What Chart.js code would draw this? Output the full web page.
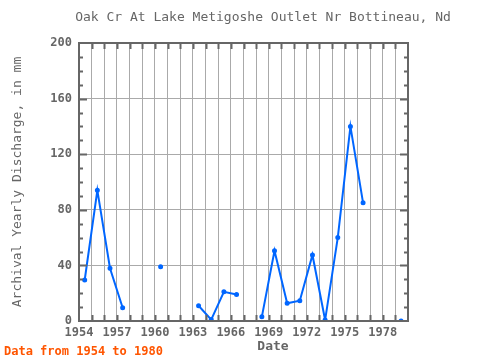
<!DOCTYPE html>
<html>
<head>
<meta charset="utf-8">
<script src="https://cdn.jsdelivr.net/npm/chart.js@4"></script>
<style>
  body { margin: 0; background: #fff; }
</style>
</head>
<body>
<canvas id="chart" width="480" height="360"></canvas>
<script>
// Yearly values (null = no data that year)
const years = [1954, 1955, 1956, 1957, 1958, 1959, 1960, 1961, 1962, 1963, 1964, 1965, 1966,
               1967, 1968, 1969, 1970, 1971, 1972, 1973, 1974, 1975, 1976, 1977, 1978, 1979];
const discharge = [29.5, 94, 38, 9.5, null, null, 39, null, null, 11, 1, 21, 19,
                   null, 3, 50.5, 12.7, 14.6, 47.5, 0.7, 60, 140, 85, null, null, 0];
const xTickLabels = [1954, 1957, 1960, 1963, 1966, 1969, 1972, 1975, 1978];
const yTickLabels = [0, 40, 80, 120, 160, 200];

const monoFont = "'DejaVu Sans Mono', monospace";

// points sit a bit after the start of each year
const points = years.map((y, i) => ({ x: y + 0.45, y: discharge[i] }));

// frame, inner tick marks and the loose text
const decorations = {
    id: "decorations",
    afterDraw(chart) {
        const ctx = chart.ctx;
        const a = chart.chartArea;
        const xs = chart.scales.x;
        const ys = chart.scales.y;
        ctx.save();
        ctx.strokeStyle = "#666";
        ctx.lineWidth = 2;
        // year ticks on top and bottom
        for (let yr = 1955; yr < 1980; yr++) {
            const px = Math.round(xs.getPixelForValue(yr)) + 0.5;
            ctx.beginPath();
            ctx.moveTo(px, a.top); ctx.lineTo(px, a.top + 6);
            ctx.moveTo(px, a.bottom); ctx.lineTo(px, a.bottom - 6);
            ctx.stroke();
        }
        // minor ticks every 10 on left and right
        for (let v = 10; v < 200; v += 10) {
            const py = Math.round(ys.getPixelForValue(v)) + 0.5;
            const len = v % 40 === 0 ? 8 : 4;
            ctx.beginPath();
            ctx.moveTo(a.left, py); ctx.lineTo(a.left + len, py);
            ctx.moveTo(a.right, py); ctx.lineTo(a.right - len, py);
            ctx.stroke();
        }
        ctx.strokeRect(a.left, a.top, a.right - a.left, a.bottom - a.top);

        ctx.fillStyle = "#666";
        ctx.textAlign = "center";
        ctx.textBaseline = "middle";
        ctx.font = "13px " + monoFont;
        ctx.fillText("Oak Cr At Lake Metigoshe Outlet Nr Bottineau, Nd", 263, 18);
        ctx.font = "bold 13px " + monoFont;
        ctx.fillText("Date", 273, 347);
        ctx.fillStyle = "#ff5500";
        ctx.textAlign = "left";
        ctx.font = "bold 12px " + monoFont;
        ctx.fillText("Data from 1954 to 1980", 4, 352);
        ctx.restore();
    }
};

new Chart(document.getElementById("chart"), {
    type: "line",
    data: {
        datasets: [{
            data: points,
            borderColor: "#0066ff",
            backgroundColor: "#0066ff",
            borderWidth: 2,
            pointRadius: 1.5,
            pointHoverRadius: 1.5,
            spanGaps: false,
            tension: 0
        }]
    },
    options: {
        responsive: false,
        animation: false,
        layout: { padding: { left: 0, right: 72, top: 43, bottom: 0 } },
        plugins: {
            legend: { display: false },
            tooltip: { enabled: false }
        },
        scales: {
            x: {
                type: "linear",
                min: 1954,
                max: 1980,
                afterFit: (s) => { s.height = 39; },
                afterBuildTicks: (s) => {
                    s.ticks = years.concat([1980]).map(v => ({ value: v }));
                },
                ticks: {
                    autoSkip: false,
                    maxRotation: 0,
                    padding: 5,
                    color: "#666",
                    font: { family: monoFont, size: 12, weight: "bold" },
                    callback: (v) => xTickLabels.includes(v) ? String(v) : ""
                },
                grid: { color: "#aaa", lineWidth: 1, drawTicks: false },
                border: { display: false }
            },
            y: {
                min: 0,
                max: 200,
                afterFit: (s) => { s.width = 79; },
                afterBuildTicks: (s) => {
                    s.ticks = yTickLabels.map(v => ({ value: v }));
                },
                ticks: {
                    padding: 7,
                    color: "#666",
                    font: { family: monoFont, size: 12, weight: "bold" }
                },
                grid: { color: "#aaa", lineWidth: 1, drawTicks: false },
                border: { display: false },
                title: {
                    display: true,
                    text: "Archival Yearly Discharge, in mm",
                    color: "#666",
                    font: { family: monoFont, size: 13 },
                    padding: { top: 10, bottom: 6 }
                }
            }
        }
    },
    plugins: [decorations]
});
</script>
</body>
</html>
